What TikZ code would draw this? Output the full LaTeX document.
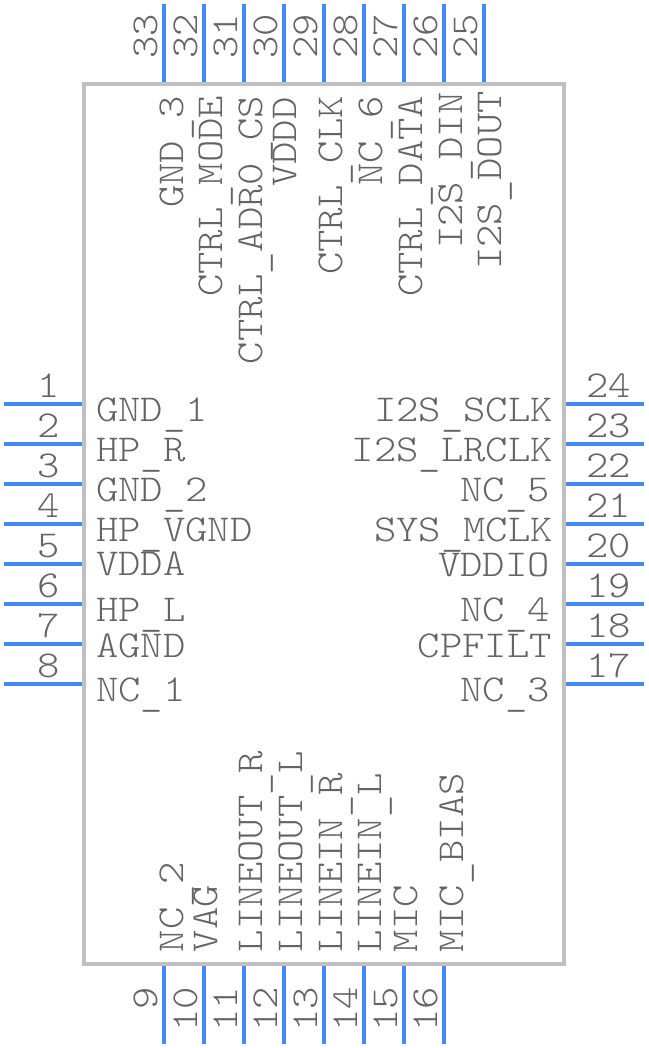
\documentclass[tikz,border=0pt]{standalone}
\definecolor{pinblue}{HTML}{4488FF}
\definecolor{bodygray}{HTML}{C0C0C0}
\definecolor{textgray}{HTML}{646464}
\newcommand{\lbl}[1]{\scalebox{1.12}[1]{\fontsize{38}{38}\ttfamily\fontseries{l}\selectfont #1}}
\newcommand{\us}{\raisebox{-4pt}{\_}}
\tikzset{
  txt/.style={inner sep=0pt,outer sep=0pt,text=textgray,font=\ttfamily},
  lw/.style={txt,anchor=base west},
  le/.style={txt,anchor=base east},
  vw/.style={txt,anchor=base west,rotate=90},
  ve/.style={txt,anchor=base east,rotate=90},
  pinline/.style={draw=pinblue,line width=4pt},
  bodybox/.style={draw=bodygray,line width=4pt}
}
\begin{document}
\begin{tikzpicture}[x=1pt,y=-1pt]
\useasboundingbox (0,0) rectangle (648,1048);
\draw[bodybox] (84,84) rectangle (564,964);
% left pins
\foreach \n/\y in {1/404,2/444,3/484,4/524,5/564,6/604,7/644,8/684}{
  \coordinate (la\n) at (4,\y); \coordinate (lb\n) at (82,\y);
  \draw[pinline] (la\n) -- (lb\n);
  \node[txt,anchor=base] (ln\n) at (49,\y-7) {\lbl{\n}};
}
% right pins
\foreach \n/\y in {24/404,23/444,22/484,21/524,20/564,19/604,18/644,17/684}{
  \coordinate (ra\n) at (644,\y); \coordinate (rb\n) at (566,\y);
  \draw[pinline] (ra\n) -- (rb\n);
  \node[lw] (rn\n) at (586.5,\y-7) {\lbl{\n}};
}
% top pins
\foreach \n/\x in {33/164,32/204,31/244,30/284,29/324,28/364,27/404,26/444,25/484}{
  \coordinate (ta\n) at (\x,4); \coordinate (tb\n) at (\x,82);
  \draw[pinline] (ta\n) -- (tb\n);
  \node[vw] (tn\n) at (\x-7,59) {\lbl{\n}};
}
% bottom pins
\foreach \n/\x in {9/164,10/204,11/244,12/284,13/324,14/364,15/404,16/444}{
  \coordinate (ba\n) at (\x,1044); \coordinate (bb\n) at (\x,966);
  \draw[pinline] (ba\n) -- (bb\n);
  \node[ve] (bn\n) at (\x-7,987) {\lbl{\n}};
}
% left labels
\node[lw] (gnda) at (96,421.5) {\lbl{GND\us 1}};
\node[lw] (hpr) at (96,461) {\lbl{HP\us R}};
\node[lw] (gndb) at (96,501.5) {\lbl{GND\us 2}};
\node[lw] (hpv) at (96,541.5) {\lbl{HP\us VGND}};
\node[lw] (vdda) at (96,575.5) {\lbl{VDDA}};
\node[lw] (hpl) at (96,621) {\lbl{HP\us L}};
\node[lw] (agnd) at (96,657.5) {\lbl{AGND}};
\node[lw] (nca) at (96,701) {\lbl{NC\us 1}};
% right labels
\node[le] (sclk) at (553,421.5) {\lbl{I2S\us SCLK}};
\node[le] (lrclk) at (553,461) {\lbl{I2S\us LRCLK}};
\node[le] (nce) at (550,501.5) {\lbl{NC\us 5}};
\node[le] (mclk) at (553,541.5) {\lbl{SYS\us MCLK}};
\node[le] (vddio) at (550,576.5) {\lbl{VDDIO}};
\node[le] (ncd) at (550,621) {\lbl{NC\us 4}};
\node[le] (cpf) at (552,657) {\lbl{CPFILT}};
\node[le] (ncc) at (550,701) {\lbl{NC\us 3}};
% top labels
\node[vw] (gndc) at (183,208) {\lbl{GND\us 3}};
\node[vw] (cmode) at (222,297) {\lbl{CTRL\us MODE}};
\node[vw] (cadr) at (262,364) {\lbl{CTRL\us ADR0\us CS}};
\node[vw] (vddd) at (296,187) {\lbl{VDDD}};
\node[vw] (cclk) at (342,275) {\lbl{CTRL\us CLK}};
\node[vw] (ncf) at (382,186) {\lbl{NC\us 6}};
\node[vw] (cdata) at (422,297) {\lbl{CTRL\us DATA}};
\node[vw] (din) at (462,249) {\lbl{I2S\us DIN}};
\node[vw] (dout) at (501,270) {\lbl{I2S\us DOUT}};
% bottom labels
\node[vw] (ncb) at (183,952) {\lbl{NC\us 2}};
\node[vw] (vag) at (217,952) {\lbl{VAG}};
\node[vw] (lor) at (262,952) {\lbl{LINEOUT\us R}};
\node[vw] (lol) at (302,952) {\lbl{LINEOUT\us L}};
\node[vw] (lir) at (342,952) {\lbl{LINEIN\us R}};
\node[vw] (lil) at (381,952) {\lbl{LINEIN\us L}};
\node[vw] (mic) at (417,952) {\lbl{MIC}};
\node[vw] (bias) at (463,952) {\lbl{MIC\us BIAS}};
\end{tikzpicture}
\end{document}
